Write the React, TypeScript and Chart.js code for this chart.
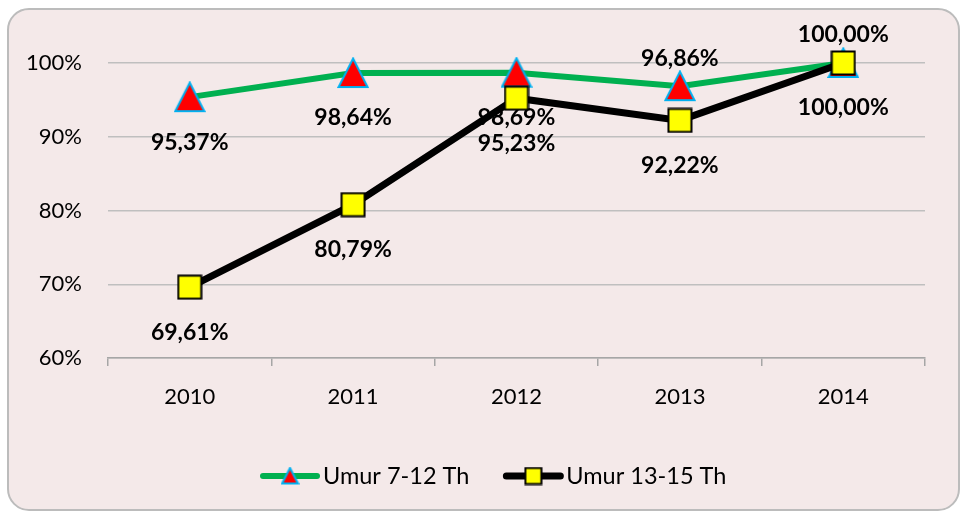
import React, { useEffect, useRef } from "react";
import { Chart, registerables } from "chart.js";

Chart.register(...registerables);

const categories = ["2010", "2011", "2012", "2013", "2014"];
const seriesAName = "Umur 7-12 Th";
const seriesA = [95.37, 98.64, 98.69, 96.86, 100.0];
const seriesALabelPos = ["below", "below", "below", "above", "above"];
const seriesBName = "Umur 13-15 Th";
const seriesB = [69.61, 80.79, 95.23, 92.22, 100.0];
const seriesBLabelPos = ["below", "below", "below", "below", "below"];
const yMin = 60;
const yMax = 100;
const yStep = 10;

const FONT = "Lato, 'Open Sans', sans-serif";

function fmt(v: number) {
  return v.toFixed(2).replace(".", ",") + "%";
}

function makeTriangle(size: number) {
  const c = document.createElement("canvas");
  c.width = size;
  c.height = size;
  const g = c.getContext("2d")!;
  const m = 1.5;
  g.beginPath();
  g.moveTo(size / 2, m);
  g.lineTo(size - m, size - m - 0.5);
  g.lineTo(m, size - m - 0.5);
  g.closePath();
  g.fillStyle = "#ff0000";
  g.fill();
  g.lineWidth = 2;
  g.strokeStyle = "#00b0f0";
  g.stroke();
  return c;
}

function makeSquare(size: number) {
  const c = document.createElement("canvas");
  c.width = size;
  c.height = size;
  const g = c.getContext("2d")!;
  g.fillStyle = "#ffff00";
  g.fillRect(1.5, 1.5, size - 3, size - 3);
  g.lineWidth = 2;
  g.strokeStyle = "#000000";
  g.strokeRect(1.5, 1.5, size - 3, size - 3);
  return c;
}

export default function App() {
  const ref = useRef<HTMLCanvasElement | null>(null);

  useEffect(() => {
    if (!ref.current) return;
    const tri = makeTriangle(32);
    const sq = makeSquare(26);
    const triL = makeTriangle(19);
    const sqL = makeSquare(19);

    const labelPlugin = {
      id: "dlabels",
      afterDatasetDraw(chart: any, args: any) {
        const ctx = chart.ctx;
        const ds = chart.data.datasets[args.index];
        const meta = args.meta;
        ctx.save();
        ctx.font = `bold 23px ${FONT}`;
        ctx.fillStyle = "#000";
        ctx.textAlign = "center";
        ctx.textBaseline = "middle";
        meta.data.forEach((pt: any, j: number) => {
          const pos = ds.labelPos[j];
          const dy = pos === "above" ? -28 : 45;
          ctx.fillText(fmt(ds.data[j]), pt.x, pt.y + dy);
        });
        ctx.restore();
      },
    };

    const legendPlugin = {
      id: "customLegend",
      afterDraw(chart: any) {
        const ctx = chart.ctx;
        ctx.save();
        ctx.font = `23.5px ${FONT}`;
        ctx.textBaseline = "middle";
        ctx.fillStyle = "#000";
        const y = 476;
        const items = [
          { name: seriesAName, color: "#00b050", width: 6, img: triL },
          { name: seriesBName, color: "#000000", width: 7, img: sqL },
        ];
        let x = 263;
        items.forEach((it) => {
          ctx.strokeStyle = it.color;
          ctx.lineWidth = it.width;
          ctx.lineCap = "round";
          ctx.beginPath();
          ctx.moveTo(x, y);
          ctx.lineTo(x + 54, y);
          ctx.stroke();
          ctx.drawImage(it.img, x + 27 - it.img.width / 2, y - it.img.height / 2);
          ctx.fillText(it.name, x + 60, y);
          x += 60 + ctx.measureText(it.name).width + 37;
        });
        ctx.restore();
      },
    };

    const chart = new Chart(ref.current, {
      type: "line",
      data: {
        labels: categories,
        datasets: [
          {
            label: seriesAName,
            data: seriesA,
            labelPos: seriesALabelPos,
            borderColor: "#00b050",
            borderWidth: 6,
            pointStyle: tri,
            pointRadius: 14,
            order: 1,
            clip: false,
            tension: 0,
          } as any,
          {
            label: seriesBName,
            data: seriesB,
            labelPos: seriesBLabelPos,
            borderColor: "#000000",
            borderWidth: 7,
            pointStyle: sq,
            pointRadius: 12,
            order: 0,
            clip: false,
            tension: 0,
          } as any,
        ],
      },
      options: {
        responsive: false,
        animation: false,
        events: [],
        layout: { padding: { left: 0, right: 37, top: 63, bottom: 96 } },
        plugins: {
          legend: { display: false },
          tooltip: { enabled: false },
        },
        scales: {
          x: {
            type: "category",
            offset: true,
            afterFit: (s: any) => {
              s.height = 60;
            },
            grid: {
              offset: true,
              drawOnChartArea: false,
              drawTicks: true,
              tickLength: 8,
              color: "#a6a6a6",
              lineWidth: 1.5,
            },
            border: { display: true, color: "#a6a6a6", width: 1.5 },
            ticks: {
              font: { family: FONT, size: 22 },
              color: "#000",
              padding: 18,
              maxRotation: 0,
            },
          },
          y: {
            min: yMin,
            max: yMax,
            afterFit: (s: any) => {
              s.width = 108;
            },
            grid: {
              drawTicks: false,
              color: "#bfbfbf",
              lineWidth: 1.5,
            },
            border: { display: false },
            ticks: {
              stepSize: yStep,
              font: { family: FONT, size: 22 },
              color: "#000",
              padding: 26,
              callback: (v: any) => `${v}%`,
            },
          },
        },
      } as any,
      plugins: [labelPlugin, legendPlugin],
    });
    return () => chart.destroy();
  }, []);

  return (
    <>
      <div
        style={{
          position: "fixed",
          left: 7,
          top: 8,
          width: 953,
          height: 503,
          boxSizing: "border-box",
          border: "2.5px solid #bcbcbc",
          borderRadius: 22,
          background: "#f4e9e9",
        }}
      />
      <canvas
        ref={ref}
        width={962}
        height={514}
        style={{ position: "fixed", left: 0, top: 0, width: 962, height: 514 }}
      />
    </>
  );
}
